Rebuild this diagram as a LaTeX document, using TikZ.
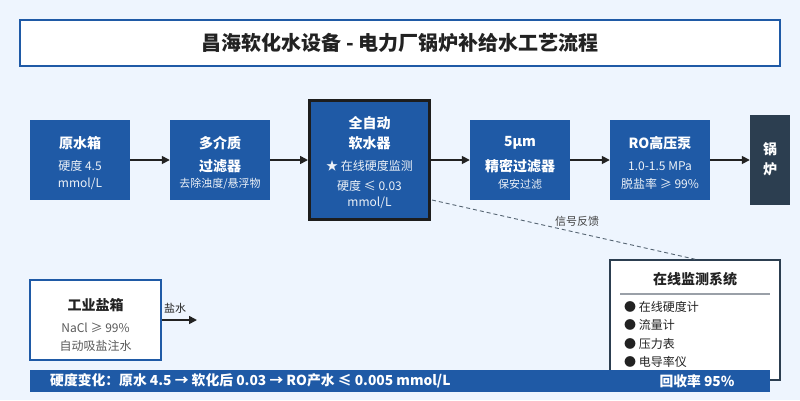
\documentclass[tikz,border=0pt]{standalone}
\usepackage{fontspec}
\setmainfont{Noto Sans CJK SC}
\usetikzlibrary{arrows.meta}
\definecolor{bg}{HTML}{EEF5FE}
\definecolor{bluebox}{HTML}{1F5AA6}
\definecolor{darkbox}{HTML}{2C3E50}
\definecolor{txt}{HTML}{222222}
\definecolor{sep}{HTML}{9AA0A8}
\tikzset{
  x=1pt,y=-1pt,
  proc/.style={fill=bluebox,draw=none,minimum width=100pt,minimum height=80pt,inner sep=0pt},
  hd/.style={text=white,font=\fontsize{14}{16}\selectfont\bfseries,inner sep=0pt},
  sub/.style={text=white!92!bluebox,font=\fontsize{12}{14}\selectfont,inner sep=0pt},
  small/.style={text=white!92!bluebox,font=\fontsize{11}{13}\selectfont,inner sep=0pt},
  flow/.style={draw=txt,line width=1.6pt,-{Triangle[length=8pt,width=8pt]}},
  dk/.style={text=txt,inner sep=0pt},
}
\begin{document}
\begin{tikzpicture}
\fill[bg] (0,0) rectangle (800,400);
\useasboundingbox (0,0) rectangle (800,400);
% title
\node[draw=bluebox,line width=1.5pt,fill=white,minimum width=760pt,minimum height=46pt,inner sep=0pt] (title) at (400,43) {};
\node[dk,font=\fontsize{20}{22}\selectfont\bfseries] (titletext) at (400,43) {昌海软化水设备 - 电力厂锅炉补给水工艺流程};
% boxes
\node[proc] (b1) at (80,160) {};
\node[hd] (b1a) at (80,143) {原水箱};
\node[sub] (b1b) at (80,166) {硬度 4.5};
\node[sub] (b1c) at (80,184) {mmol/L};
\node[proc] (b2) at (220,160) {};
\node[hd] (b2a) at (220,143) {多介质};
\node[hd] (b2b) at (220,166) {过滤器};
\node[small] (b2c) at (220,184) {去除浊度/悬浮物};
\node[proc,draw=txt!85!black,line width=3pt,minimum width=120pt,minimum height=119pt] (b3) at (369.5,160) {};
\node[hd] (b3a) at (369.5,123) {全自动};
\node[hd] (b3b) at (369.5,143) {软水器};
\node[sub] (b3c) at (369.5,166) {★ 在线硬度监测};
\node[sub] (b3d) at (369.5,186) {硬度 ≤ 0.03};
\node[sub] (b3e) at (369.5,203) {mmol/L};
\node[proc] (b4) at (520,160) {};
\node[hd] (b4a) at (520,143) {5μm};
\node[hd] (b4b) at (520,166) {精密过滤器};
\node[small] (b4c) at (520,184) {保安过滤};
\node[proc] (b5) at (660,160) {};
\node[hd] (b5a) at (660,143) {RO高压泵};
\node[sub] (b5b) at (660,166) {1.0-1.5 MPa};
\node[sub] (b5c) at (660,184) {脱盐率 ≥ 99\%};
\node[fill=darkbox,minimum width=40pt,minimum height=90pt,inner sep=0pt] (boiler) at (770,160) {};
\node[hd] (boa) at (770,149) {锅};
\node[hd] (bob) at (770,169) {炉};
% flow arrows
\draw[flow] (b1.east) -- (b2.west);
\draw[flow] (b2.east) -- (b3.west);
\draw[flow] (b3.east |- b4.west) -- (b4.west);
\draw[flow] (b4.east) -- (b5.west);
\draw[flow] (b5.east) -- (boiler.west);
% monitor
\node[draw=darkbox,line width=1.6pt,fill=white,minimum width=170pt,minimum height=120pt,inner sep=0pt] (mon) at (695,320) {};
\node[dk,font=\fontsize{14}{16}\selectfont\bfseries] (mont) at (695,279) {在线监测系统};
\draw[sep,line width=1.2pt] (620,294) -- (770,294);
\begin{scope}[every node/.style={dk,font=\fontsize{12}{14}\selectfont,anchor=west}]
\node (m1) at (624,307) {● 在线硬度计};
\node (m2) at (624,325) {● 流量计};
\node (m3) at (624,344) {● 压力表};
\node (m4) at (624,362) {● 电导率仪};
\end{scope}
\coordinate (d1) at (432,200);
\draw[darkbox!80,dashed,line width=0.9pt,dash pattern=on 4pt off 3pt] (d1) -- (mon.north);
\node[dk,font=\fontsize{11}{13}\selectfont,text=txt!85] (sig) at (577,221) {信号反馈};
% salt box
\node[draw=bluebox,line width=1.6pt,fill=white,minimum width=131pt,minimum height=80pt,inner sep=0pt] (salt) at (95.5,320) {};
\node[dk,font=\fontsize{14}{16}\selectfont\bfseries] (sa) at (95.5,305) {工业盐箱};
\node[dk,font=\fontsize{12}{14}\selectfont,text=txt!75] (sb) at (95.5,328) {NaCl ≥ 99\%};
\node[dk,font=\fontsize{12}{14}\selectfont,text=txt!75] (sc) at (95.5,346) {自动吸盐注水};
\coordinate (se) at (197,320);
\draw[flow] (salt.east) -- (se);
\node[dk,font=\fontsize{11}{13}\selectfont] (brine) at (175,308) {盐水};
% bottom bar
\node[fill=bluebox,minimum width=740pt,minimum height=22pt,inner sep=0pt] (bar) at (400,381) {};
\node[text=white,font=\fontsize{13.8}{15}\selectfont\bfseries,anchor=west,inner sep=0pt] (bart) at (50,381) {硬度变化：原水 4.5 → 软化后 0.03 → RO产水 ≤ 0.005 mmol/L};
\node[text=white,font=\fontsize{13.8}{15}\selectfont\bfseries,inner sep=0pt] (barr) at (697,381) {回收率 95\%};
\end{tikzpicture}
\end{document}
